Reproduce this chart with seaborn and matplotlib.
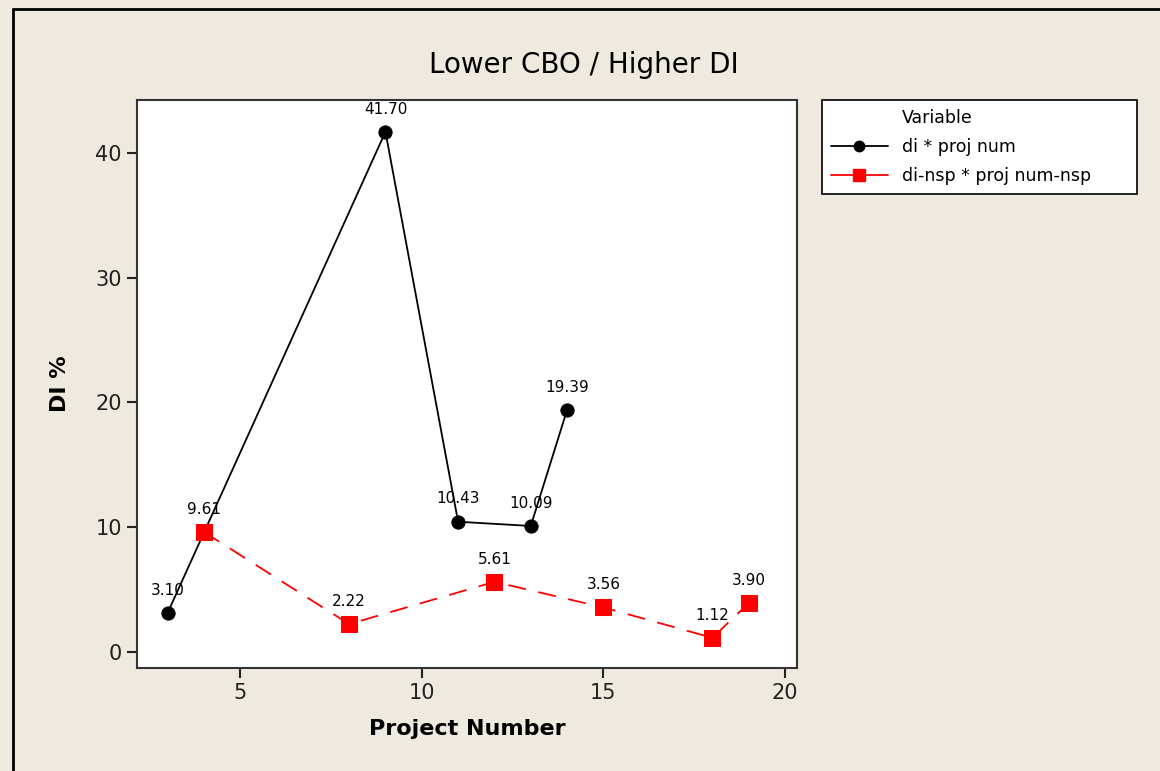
import numpy as np
import pandas as pd
import seaborn as sb
import matplotlib.pyplot as plt
from matplotlib.lines import Line2D

# data
proj_num = [3, 9, 11, 13, 14]
di = [3.10, 41.70, 10.43, 10.09, 19.39]
proj_num_nsp = [4, 8, 12, 15, 18, 19]
di_nsp = [9.61, 2.22, 5.61, 3.56, 1.12, 3.90]
x_ticks = [5, 10, 15, 20]
y_ticks = [0, 10, 20, 30, 40]

df1 = pd.DataFrame({'x': proj_num, 'y': di})
df2 = pd.DataFrame({'x': proj_num_nsp, 'y': di_nsp})

sb.set_style('white')
plt.rcParams['font.family'] = ['DejaVu Sans']
plt.rcParams['text.color'] = 'black'
plt.rcParams['axes.labelcolor'] = 'black'
bg = '#EEEAE0'

fig = plt.figure(figsize=(11.6, 7.71), dpi=100, facecolor=bg)
ax = fig.add_axes([137/1160, 1 - 668/771, 660/1160, 568/771])
ax.set_facecolor('white')

sb.lineplot(data=df1, x='x', y='y', ax=ax, color='black', lw=1.3,
            marker='o', markersize=9.5, markeredgecolor='black', zorder=3)
sb.lineplot(data=df2, x='x', y='y', ax=ax, color='red', lw=1.3,
            marker='s', markersize=11, markeredgecolor='red', zorder=3)
ax.lines[1].set_dashes([10, 7])

# value labels
for xv, yv in zip(proj_num + proj_num_nsp, di + di_nsp):
    ax.annotate(f'{yv:.2f}', (xv, yv), xytext=(0, 11), textcoords='offset points',
                ha='center', va='bottom', fontsize=11, color='black')

ax.set_xlim(2.16, 20.33)
ax.set_ylim(-1.3, 44.25)
ax.set_xticks(x_ticks)
ax.set_yticks(y_ticks)
ax.tick_params(direction='out', length=7, width=1.5, labelsize=15, color='#222222',
               labelcolor='#222222', bottom=True, left=True, pad=4)
for s in ax.spines.values():
    s.set_linewidth(1.5)
    s.set_color('#333333')

ax.set_xlabel('Project Number', fontsize=16, fontweight='bold', labelpad=11)
ax.set_ylabel('DI %', fontsize=16, fontweight='bold', labelpad=18)
fig.text(0.503, 1 - 65/771, 'Lower CBO / Higher DI', ha='center', va='center',
         fontsize=20, fontweight='medium')

# legend
handles = [Line2D([], [], color='white', lw=0),
           Line2D([], [], color='black', lw=1.3, marker='o', markersize=7.5),
           Line2D([], [], color='red', lw=1.3, marker='s', markersize=8)]
labels = ['Variable', 'di * proj num', 'di-nsp * proj num-nsp']
leg = fig.legend(handles, labels, loc='upper left',
                 bbox_to_anchor=(822/1160, 1 - 192/771, 315/1160, 92/771), mode='expand',
                 fontsize=12.5, frameon=True, fancybox=False, handlelength=3.3,
                 borderpad=0.5, labelspacing=0.65, borderaxespad=0)
leg.get_frame().set_edgecolor('black')
leg.get_frame().set_facecolor('white')
leg.get_frame().set_alpha(1)
leg.get_frame().set_linewidth(1.2)

# window border (left and top)
fig.add_artist(Line2D([13/1160, 13/1160], [0, 1 - 9/771], color='black', lw=2,
                      transform=fig.transFigure))
fig.add_artist(Line2D([13/1160, 1], [1 - 9/771, 1 - 9/771], color='black', lw=2,
                      transform=fig.transFigure))

fig.savefig('out.png', dpi=100, facecolor=bg)
